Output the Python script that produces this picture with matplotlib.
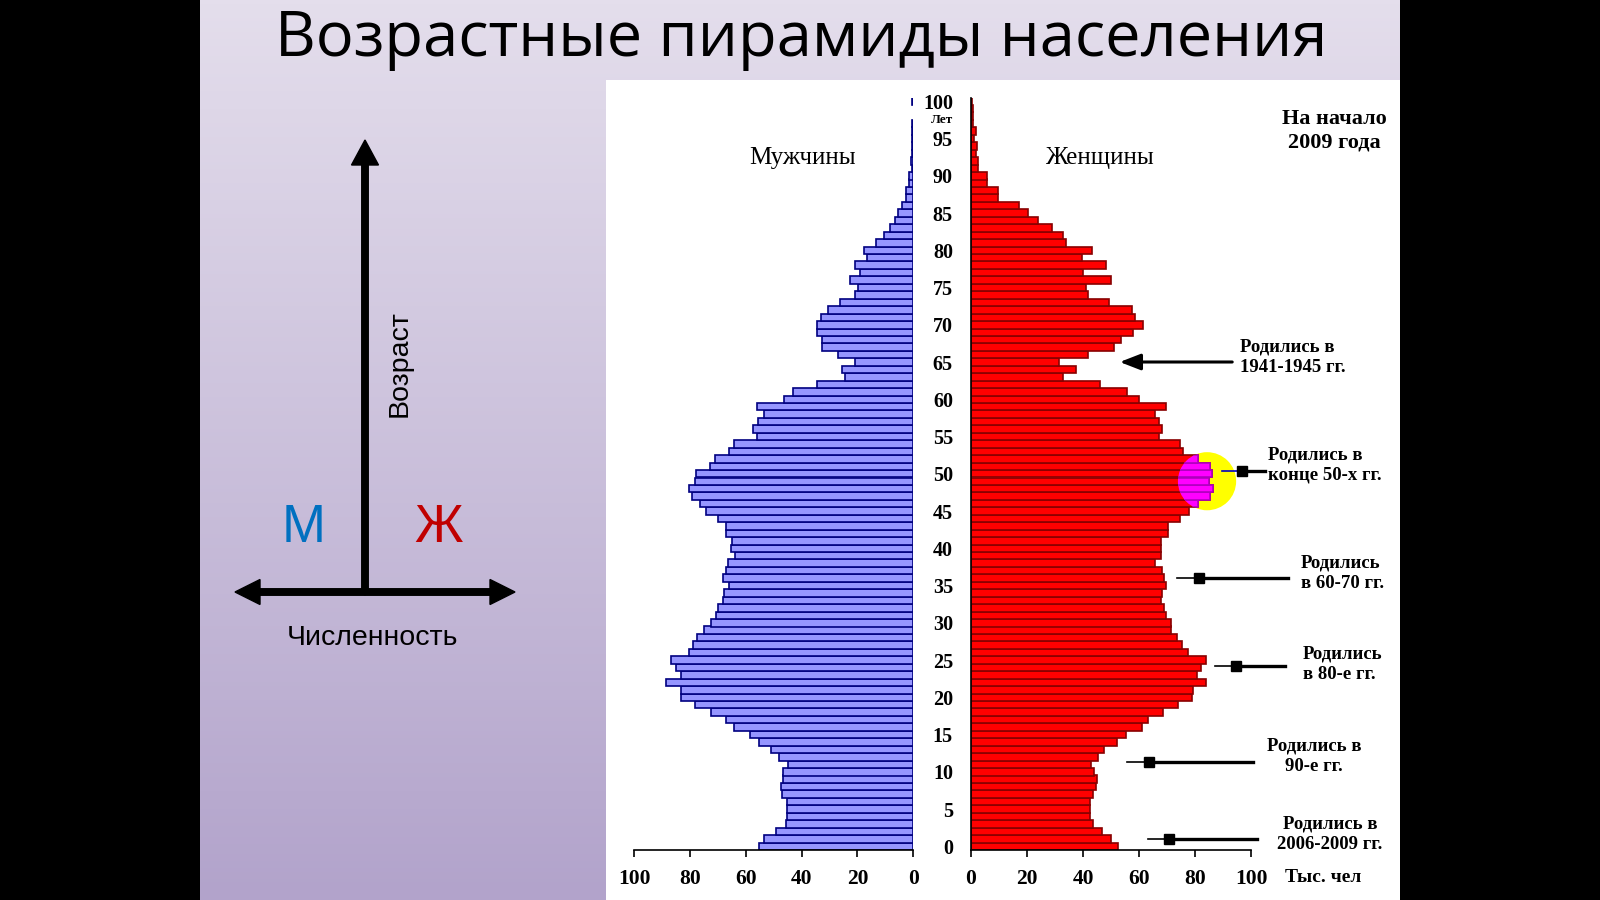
import numpy as np
import matplotlib
matplotlib.use("Agg")
import matplotlib.pyplot as plt
from matplotlib.patches import Rectangle, Ellipse

# численность населения по возрастам, тыс. чел (начало 2009 г.)
ages = np.arange(0, 101)
male = [55.2, 53.4, 49.2, 45.6, 45.2, 45.2, 45.2, 47.0, 47.4, 46.8,
        46.8, 45.0, 48.0, 51.0, 55.2, 58.5, 64.3, 67.1, 72.6, 78.0,
        83.3, 83.3, 88.4, 83.3, 85.1, 86.6, 80.4, 78.9, 77.4, 75.0,
        72.5, 70.5, 70.1, 68.3, 67.7, 66.0, 68.3, 67.1, 66.5, 63.7,
        65.4, 64.8, 67.1, 67.1, 70.1, 74.4, 76.5, 79.4, 80.4, 78.3,
        77.7, 72.9, 71.1, 66.0, 64.3, 56.1, 57.3, 55.6, 53.5, 56.1,
        46.2, 43.2, 34.6, 24.4, 25.4, 20.9, 26.9, 32.6, 32.6, 34.5,
        34.5, 32.9, 30.7, 26.3, 20.9, 19.7, 22.7, 19.1, 20.9, 16.7,
        17.6, 13.4, 10.5, 8.4, 6.6, 5.4, 4.2, 2.6, 2.6, 1.4,
        1.4, 0.6, 1.0, 0.3, 0.3, 0.3, 0.3, 0.3, 0.0, 0.0, 0.4]
female = [52.4, 49.9, 46.7, 43.7, 42.5, 42.5, 42.5, 43.5, 44.6, 44.9,
          44.0, 43.0, 45.5, 47.6, 52.3, 55.2, 61.0, 63.3, 68.5, 74.0,
          78.8, 79.4, 83.9, 80.8, 82.1, 83.9, 77.6, 75.2, 73.5, 71.3,
          71.3, 69.6, 68.9, 68.0, 68.3, 69.6, 68.9, 68.3, 65.7, 67.7,
          67.7, 67.7, 70.5, 70.5, 74.6, 78.0, 81.0, 85.5, 86.5, 85.0,
          86.0, 85.5, 81.0, 75.8, 74.6, 67.3, 68.3, 67.3, 65.7, 69.5,
          59.9, 55.8, 46.0, 32.7, 37.4, 31.5, 41.9, 51.0, 53.5, 58.0,
          61.5, 58.6, 57.4, 49.4, 41.9, 41.1, 50.0, 40.1, 48.2, 39.8,
          43.1, 33.8, 32.7, 28.8, 24.0, 20.5, 17.1, 9.5, 9.5, 5.6,
          5.6, 2.6, 2.6, 1.8, 2.0, 1.1, 1.8, 0.6, 0.6, 0.6, 0.3]
x_ticks = [0, 20, 40, 60, 80, 100]
age_ticks = list(range(0, 101, 5))

notes = ["Родились в\n1941-1945 гг.", "Родились в\nконце 50-х гг.",
         "Родились\nв 60-70 гг.", "Родились\nв 80-е гг.",
         "Родились в\n90-е гг.", "Родились в\n2006-2009 гг."]

W, H = 1600, 900
SERIF = "Liberation Serif"


def rect(x0, y0, x1, y1):
    # pixel box (top-left origin) -> figure fraction
    return [x0 / W, 1 - y1 / H, (x1 - x0) / W, (y1 - y0) / H]


fig = plt.figure(figsize=(16, 9), dpi=100, facecolor="black")

# slide background
bg = fig.add_axes(rect(200, 0, 1400, 900), zorder=0)
top = np.array([228, 222, 236]) / 255
bot = np.array([178, 163, 203]) / 255
t = np.linspace(0, 1, 256)[:, None, None]
grad = top * (1 - t) + bot * t
bg.imshow(np.repeat(grad, 2, axis=1), aspect="auto")
bg.axis("off")

fig.add_artist(Rectangle((606 / W, 0), 794 / W, 820 / H,
                         transform=fig.transFigure, facecolor="white",
                         edgecolor="none", zorder=1))

fig.text(801 / W, 1 - 40 / H, "Возрастные пирамиды населения",
         ha="center", va="center", fontsize=45.5, family="Open Sans",
         color="black")

# pyramid
y_top = 850 - 101 * 7.45
axm = fig.add_axes(rect(634, y_top, 913.3, 850), zorder=2)
axf = fig.add_axes(rect(971, y_top, 1251, 850), zorder=2)

male_a = np.array(male)
axm.barh(ages, male_a, height=1.0, color="#9696ff", edgecolor="#000080",
         linewidth=np.where(male_a > 0, 1.2, 0.0), zorder=2)
axf.barh(ages, female, height=1.0, color="#ff0000", edgecolor="#880000",
         linewidth=1.2, zorder=2)

# highlighted late-50s cohort
ell = Ellipse((84.3, 49.0), 20.8, 7.8, facecolor="#ffff00",
              edgecolor="none", zorder=1)
axf.add_patch(ell)
hl = axf.barh(ages, female, height=1.0, color="#ff00ff", edgecolor="#b000c0",
              linewidth=1.2, zorder=3)
for b in hl:
    b.set_clip_path(ell)

for ax in (axm, axf):
    ax.set_facecolor("none")
    ax.set_ylim(-0.5, 100.5)
    ax.set_xticks(x_ticks)
    ax.set_xticklabels([str(v) for v in x_ticks])
    ax.tick_params(axis="x", direction="out", length=5, width=1.2, pad=9,
                   labelsize=15.5)
    for lab in ax.get_xticklabels():
        lab.set_family(SERIF)
        lab.set_fontweight("bold")
    for s in ("top", "right", "left"):
        ax.spines[s].set_visible(False)
    ax.spines["bottom"].set_linewidth(1.2)

axm.set_xlim(100, 0)
axm.set_yticks([])
axf.set_xlim(0, 100)
axf.spines["left"].set_visible(True)
axf.spines["left"].set_linewidth(1.2)
axf.set_yticks(age_ticks)
axf.set_yticklabels([str(a) for a in age_ticks])
axf.tick_params(axis="y", length=0, pad=13, labelsize=14.5)
for lab in axf.get_yticklabels():
    lab.set_family(SERIF)
    lab.set_fontweight("bold")

# overlay in pixel coordinates
ov = fig.add_axes([0, 0, 1, 1], zorder=3)
ov.set_xlim(0, W)
ov.set_ylim(H, 0)
ov.set_facecolor("none")
ov.axis("off")

bold = dict(family=SERIF, fontweight="bold", color="black")
ov.text(942, 120, "Лет", ha="center", va="center", fontsize=9.5, **bold)
ov.text(803, 158, "Мужчины", ha="center", va="center", fontsize=18,
        family=SERIF, color="black")
ov.text(1099, 158, "Женщины", ha="center", va="center", fontsize=18,
        family=SERIF, color="black")
ov.text(1334, 131, "На начало\n2009 года", ha="center", va="center",
        fontsize=16, linespacing=1.2, **bold)
ov.text(1323, 878, "Тыс. чел", ha="center", va="center", fontsize=14, **bold)

# note texts: (x, y, ha)
note_pos = [(1240, 357, "left"), (1268, 465, "left"), (1301, 573, "left"),
            (1303, 664, "left"), (1314, 756, "center"), (1330, 834, "center")]
for s, (x, y, ha) in zip(notes, note_pos):
    ov.text(x, y, s, ha=ha, va="center", fontsize=13.5, linespacing=1.25,
            multialignment=ha, **bold)

# arrow for 1941-45
ov.annotate("", xy=(1117, 362), xytext=(1235, 362),
            arrowprops=dict(arrowstyle="-|>,head_length=0.9,head_width=0.35",
                            lw=2.2, color="black", mutation_scale=14))
# other arrows: (tip, square, tail, y)
arrows = [(1222, 1242, 1265, 471), (1177, 1199, 1288, 578),
          (1215, 1236, 1285, 666), (1127, 1149, 1253, 762),
          (1148, 1169, 1257, 839)]
for i, (x0, xs, x1, y) in enumerate(arrows):
    ov.plot([x0, xs], [y, y], color="#0000c0" if i == 0 else "black",
            lw=1.2)
    ov.plot([xs, x1], [y, y], color="black", lw=2.4)
    ov.plot([xs], [y], marker="s", ms=7, color="black")

# left scheme
ov.arrow(365, 592, 0, -452, width=6.5, head_width=27, head_length=25,
         length_includes_head=True, color="black")
ov.arrow(365, 592, -130, 0, width=6.5, head_width=25, head_length=25,
         length_includes_head=True, color="black")
ov.arrow(365, 592, 150, 0, width=6.5, head_width=25, head_length=25,
         length_includes_head=True, color="black")
sans = "Liberation Sans"
ov.text(400, 364, "Возраст", rotation=90, ha="center", va="center",
        fontsize=20.5, family=sans, color="black")
ov.text(304, 528, "М", ha="center", va="center", fontsize=38, family=sans,
        color="#0070c0")
ov.text(439, 528, "Ж", ha="center", va="center", fontsize=38, family=sans,
        color="#c00000")
ov.text(372, 638, "Численность", ha="center", va="center", fontsize=20.5,
        family=sans, color="black")

fig.savefig("out.png", dpi=100, facecolor="black")
